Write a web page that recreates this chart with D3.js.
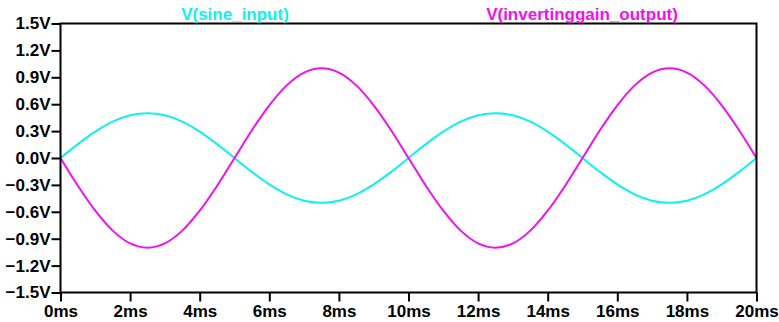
<!DOCTYPE html>
<html>
<head>
<meta charset="utf-8">
<script src="https://cdn.jsdelivr.net/npm/d3@7"></script>
<style>
  html, body { margin: 0; padding: 0; background: #fff; }
  svg { display: block; }
  text { font-family: "Liberation Sans", Arial, sans-serif; font-weight: bold; }
</style>
</head>
<body>
<svg id="chart" width="779" height="322"></svg>
<script>
// Sample times (ms)
const timeMs = [0, 0.5, 1, 1.5, 2, 2.5, 3, 3.5, 4, 4.5, 5, 5.5, 6, 6.5, 7, 7.5, 8, 8.5, 9, 9.5,
  10, 10.5, 11, 11.5, 12, 12.5, 13, 13.5, 14, 14.5, 15, 15.5, 16, 16.5, 17, 17.5, 18, 18.5, 19, 19.5, 20];

// V(sine_input) in volts
const sineInput = [0, 0.155, 0.294, 0.405, 0.476, 0.5, 0.476, 0.405, 0.294, 0.155,
  0, -0.155, -0.294, -0.405, -0.476, -0.5, -0.476, -0.405, -0.294, -0.155,
  0, 0.155, 0.294, 0.405, 0.476, 0.5, 0.476, 0.405, 0.294, 0.155,
  0, -0.155, -0.294, -0.405, -0.476, -0.5, -0.476, -0.405, -0.294, -0.155, 0];

// V(invertinggain_output) in volts
const invertingOutput = [0, -0.31, -0.588, -0.81, -0.952, -1.0, -0.952, -0.81, -0.588, -0.31,
  0, 0.31, 0.588, 0.81, 0.952, 1.0, 0.952, 0.81, 0.588, 0.31,
  0, -0.31, -0.588, -0.81, -0.952, -1.0, -0.952, -0.81, -0.588, -0.31,
  0, 0.31, 0.588, 0.81, 0.952, 1.0, 0.952, 0.81, 0.588, 0.31, 0];

const yTicks = [-1.5, -1.2, -0.9, -0.6, -0.3, 0, 0.3, 0.6, 0.9, 1.2, 1.5];
const xTicks = [0, 2, 4, 6, 8, 10, 12, 14, 16, 18, 20];

const seriesNames = ["V(sine_input)", "V(invertinggain_output)"];
const seriesColors = ["#10f0f0", "#f010f0"];

const svg = d3.select("#chart");
const plotLeft = 60.5, plotRight = 756.5, plotTop = 23.5, plotBottom = 292.5;
const fontPx = 17;

const x = d3.scaleLinear().domain([0, 20]).range([plotLeft, plotRight]);
const y = d3.scaleLinear().domain([-1.5, 1.5]).range([plotBottom, plotTop]);

// Traces
const series = [sineInput, invertingOutput];
const line = d3.line().curve(d3.curveCatmullRom.alpha(0.5));
series.forEach((vals, i) => {
  svg.append("path")
    .attr("d", line(timeMs.map((t, k) => [x(t), y(vals[k])])))
    .attr("fill", "none")
    .attr("stroke", seriesColors[i])
    .attr("stroke-width", 2);
});

// Frame
svg.append("rect")
  .attr("x", plotLeft).attr("y", plotTop)
  .attr("width", plotRight - plotLeft).attr("height", plotBottom - plotTop)
  .attr("fill", "none").attr("stroke", "#000").attr("stroke-width", 2);

// Axes
const yAxis = d3.axisLeft(y).tickValues(yTicks).tickSize(9).tickPadding(1)
  .tickFormat(d => (Math.abs(d) < 1e-9 ? "0.0" : d3.format(".1f")(d)) + "V");
const xAxis = d3.axisBottom(x).tickValues(xTicks).tickSize(9).tickPadding(3)
  .tickFormat(d => d + "ms");

const gy = svg.append("g").attr("transform", `translate(${plotLeft},0)`).call(yAxis);
const gx = svg.append("g").attr("transform", `translate(0,${plotBottom})`).call(xAxis);

[gy, gx].forEach(g => {
  g.select(".domain").remove();
  g.selectAll(".tick line").attr("stroke", "#000").attr("stroke-width", 2);
  g.selectAll(".tick text").attr("fill", "#000").attr("font-size", fontPx)
    .style("font-family", "'Liberation Sans', Arial, sans-serif").style("font-weight", "bold");
});

// Trace names
const nameX = [235, 582];
seriesNames.forEach((n, i) => {
  svg.append("text")
    .attr("x", nameX[i]).attr("y", 20)
    .attr("text-anchor", "middle")
    .attr("font-size", fontPx)
    .attr("fill", seriesColors[i])
    .text(n);
});
</script>
</body>
</html>
